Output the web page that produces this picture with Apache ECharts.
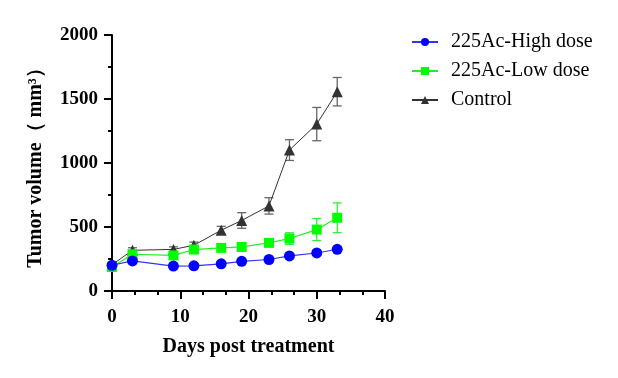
<!DOCTYPE html>
<html><head><meta charset="utf-8">
<script src="https://cdn.jsdelivr.net/npm/echarts@6/dist/echarts.min.js"></script>
<style>html,body{margin:0;padding:0;background:#fff}#c{width:618px;height:378px}</style>
</head><body><div id="c"></div>
<script>
const days = [0, 3, 9, 12, 16, 19, 23, 26, 30, 33];
const highDose = [201, 235, 195, 197, 212, 232, 246, 274, 297, 326];
const highErr  = [10, 12, 10, 10, 12, 12, 14, 15, 16, 18];
const lowDose  = [188, 287, 278, 324, 337, 344, 376, 410, 480, 572];
const lowErr   = [15, 20, 20, 22, 22, 25, 28, 45, 86, 116];
const control  = [205, 318, 325, 357, 475, 551, 665, 1101, 1304, 1557];
const ctrlErr  = [15, 20, 20, 25, 30, 61, 64, 81, 130, 111];
const names = ['225Ac-High dose', '225Ac-Low dose', 'Control'];
const FONT = '"Liberation Serif", "Times New Roman", serif';

function pts(vals){ return days.map((d,i)=>[d, vals[i]]); }
function errData(vals, errs){ return days.map((d,i)=>[d, vals[i]-errs[i], vals[i]+errs[i]]); }
function errSeries(name, vals, errs, color, z){
  return {
    type: 'custom', name: name, z: z, silent: true,
    data: errData(vals, errs),
    encode: { x: 0, y: [1, 2] },
    renderItem: function(params, api){
      const x = api.value(0);
      const lo = api.coord([x, api.value(1)]);
      const hi = api.coord([x, api.value(2)]);
      const hw = 4.5;
      const st = { stroke: color, lineWidth: 1.3 };
      return { type: 'group', children: [
        { type: 'line', shape: { x1: lo[0], y1: lo[1], x2: hi[0], y2: hi[1] }, style: st },
        { type: 'line', shape: { x1: lo[0]-hw, y1: lo[1], x2: lo[0]+hw, y2: lo[1] }, style: st },
        { type: 'line', shape: { x1: hi[0]-hw, y1: hi[1], x2: hi[0]+hw, y2: hi[1] }, style: st }
      ]};
    }
  };
}

const chart = echarts.init(document.getElementById('c'), null, { renderer: 'canvas' });
chart.setOption({
  animation: false,
  backgroundColor: '#fff',
  grid: { left: 112, right: 233, top: 35, bottom: 87 },
  legend: {
    data: names,
    orient: 'vertical', left: 406, top: 27, itemGap: 9,
    itemWidth: 26, itemHeight: 10,
    textStyle: { fontFamily: FONT, fontSize: 20, color: '#000', padding: [0, 0, 0, 8] }
  },
  xAxis: {
    type: 'value', min: 0, max: 40, interval: 10,
    name: 'Days post treatment', nameLocation: 'middle', nameGap: 46,
    nameTextStyle: { fontFamily: FONT, fontSize: 20, fontWeight: 'bold', color: '#000' },
    axisLine: { show: true, onZero: false, lineStyle: { color: '#000', width: 2 } },
    axisTick: { show: true, length: 8, lineStyle: { color: '#000', width: 2 } },
    minorTick: { show: true, splitNumber: 3, length: 4, lineStyle: { color: '#000', width: 2 } },
    axisLabel: { fontFamily: FONT, fontSize: 19, fontWeight: 'bold', color: '#000', margin: 17 },
    splitLine: { show: false }
  },
  yAxis: {
    type: 'value', min: 0, max: 2000, interval: 500,
    name: 'Tumor volume（ mm³）', nameLocation: 'middle', nameGap: 66, nameRotate: 90,
    nameTextStyle: { fontFamily: FONT, fontSize: 20, fontWeight: 'bold', color: '#000' },
    axisLine: { show: true, lineStyle: { color: '#000', width: 2 } },
    axisTick: { show: true, length: 8, lineStyle: { color: '#000', width: 2 } },
    minorTick: { show: true, splitNumber: 2, length: 4, lineStyle: { color: '#000', width: 2 } },
    axisLabel: { fontFamily: FONT, fontSize: 19, fontWeight: 'bold', color: '#000', margin: 14,
      formatter: function(v){ return String(v); } },
    splitLine: { show: false }
  },
  series: [
    errSeries('ctrlErr', control, ctrlErr, '#666666', 1),
    { name: names[2], type: 'line', z: 2, data: pts(control), symbol: 'triangle', symbolSize: 11,
      itemStyle: { color: '#333333' }, lineStyle: { color: '#333333', width: 1 } },
    errSeries('lowErr', lowDose, lowErr, '#33ee33', 3),
    { name: names[1], type: 'line', z: 4, data: pts(lowDose), symbol: 'rect', symbolSize: 10,
      itemStyle: { color: '#00ff00' }, lineStyle: { color: '#22ee22', width: 1.2 } },
    errSeries('highErr', highDose, highErr, '#3333ff', 5),
    { name: names[0], type: 'line', z: 6, data: pts(highDose), symbol: 'circle', symbolSize: 11,
      itemStyle: { color: '#0000ff' }, lineStyle: { color: '#3333ff', width: 1.2 } }
  ]
});
</script></body></html>
